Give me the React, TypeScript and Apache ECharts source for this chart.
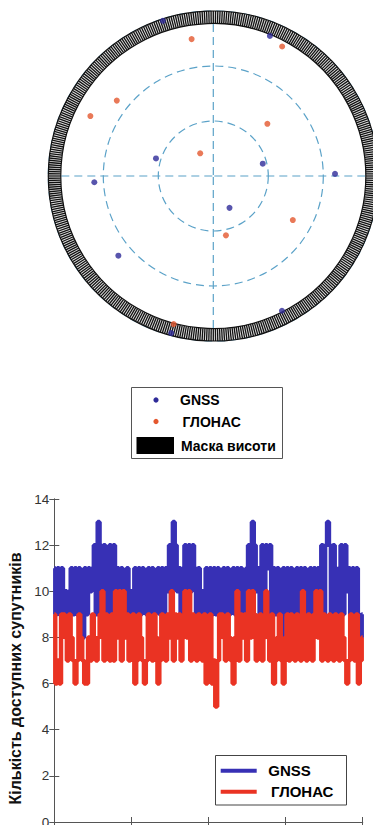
import React, { useEffect, useRef } from 'react';
import * as echarts from 'echarts';

// ---------- Sky plot (elevation °, azimuth °) ----------
const GNSS_SKY_ELEV = [1, 7.6, 57.3, 62.2, 25, 23.6, 70.5, 22.4, 7.5, 1.3];
const GNSS_SKY_AZ = [342, 22, 287, 76, 267, 89, 153, 230, 153, 195];
const GLONASS_SKY_ELEV = [14.4, 10, 23.2, 15.4, 49, 75.7, 40.4, 56.9, 6.4];
const GLONASS_SKY_AZ = [351, 28, 308, 296, 46, 330, 119, 168, 195];
const ELEVATION_MASK_DEG = 6.8;

// ---------- Visible satellites time series ----------
const SAMPLE_STEP_H = 0.6;
const GNSS_COUNT = [
  11, 9, 11, 9, 11, 9, 10, 9, 10, 11, 9, 11, 9, 11, 9, 8, 11, 9, 11, 10,
  11, 12, 9, 13, 12, 9, 12, 11, 9, 12, 9, 12, 10, 11, 9, 11, 10, 9, 11, 9,
  10, 9, 11, 9, 11, 9, 11, 10, 9, 11, 9, 11, 9, 10, 11, 9, 11, 9, 11, 10,
  12, 9, 13, 12, 10, 11, 9, 11, 12, 9, 12, 10, 12, 11, 9, 11, 9, 10, 9, 11,
  8, 11, 9, 11, 9, 11, 10, 9, 11, 9, 11, 9, 10, 11, 9, 11, 9, 11, 10, 9,
  11, 12, 9, 13, 12, 10, 11, 9, 12, 9, 12, 11, 12, 9, 11, 9, 11, 10, 8, 11,
  9, 11, 9, 11, 9, 10, 11, 9, 11, 9, 11, 10, 9, 11, 9, 11, 9, 11, 10, 12,
  9, 12, 13, 12, 9, 12, 11, 9, 11, 12, 9, 12, 10, 11, 9, 11, 9, 11, 9, 8,
  9,
];
const GLONASS_COUNT = [
  9, 6, 7, 6, 9, 9, 8, 7, 9, 8, 7, 6, 7, 9, 8, 7, 6, 6, 8, 7,
  9, 8, 7, 8, 9, 10, 7, 9, 8, 7, 9, 7, 10, 8, 10, 7, 10, 8, 9, 7,
  8, 9, 6, 7, 9, 8, 7, 6, 7, 9, 8, 7, 9, 8, 6, 7, 9, 8, 7, 9,
  8, 10, 7, 9, 8, 9, 7, 8, 10, 8, 10, 7, 9, 8, 7, 9, 8, 7, 9, 6,
  8, 9, 6, 7, 5, 7, 9, 9, 8, 7, 9, 8, 7, 6, 8, 10, 7, 9, 8, 9,
  7, 10, 8, 10, 9, 7, 8, 9, 7, 8, 10, 8, 7, 9, 6, 7, 8, 9, 7, 6,
  8, 9, 7, 9, 8, 7, 9, 8, 7, 10, 8, 7, 9, 8, 7, 9, 10, 8, 10, 7,
  9, 8, 7, 9, 8, 7, 9, 8, 7, 9, 8, 7, 6, 7, 9, 8, 7, 9, 6, 7,
  8,
];

const SKY_BLUE = '#2e2a98';
const SKY_ORANGE = '#e4572e';
const LINE_BLUE = '#3730b5';
const LINE_RED = '#ea3323';
const DASH_COLOR = '#5ba2c8';
const FONT = '"Liberation Sans", Arial, Helvetica, sans-serif';

export default function App() {
  const ref = useRef<HTMLDivElement>(null);

  useEffect(() => {
    if (!ref.current) return;
    const chart = echarts.init(ref.current, undefined, { renderer: 'svg' });

    const gnssSky = GNSS_SKY_ELEV.map((e, i) => [e, GNSS_SKY_AZ[i]]);
    const glonassSky = GLONASS_SKY_ELEV.map((e, i) => [e, GLONASS_SKY_AZ[i]]);
    const gnssSeries = GNSS_COUNT.map((v, i) => [i * SAMPLE_STEP_H, v]);
    const glonassSeries = GLONASS_COUNT.map((v, i) => [i * SAMPLE_STEP_H, v]);
    const xMax = (GNSS_COUNT.length - 1) * SAMPLE_STEP_H;

    const dashed = { type: [8, 5] as any, color: DASH_COLOR, width: 1.2 };

    const option: any = {
      animation: false,
      textStyle: { fontFamily: FONT },
      polar: { center: [213.3, 176], radius: 165 },
      angleAxis: {
        type: 'value', min: 0, max: 360, interval: 90, startAngle: 90, clockwise: true,
        axisLine: { show: false }, axisTick: { show: false }, axisLabel: { show: false },
        splitLine: { show: true, lineStyle: dashed },
      },
      radiusAxis: {
        type: 'value', min: 0, max: 90, interval: 30, inverse: true,
        axisLine: { show: false }, axisTick: { show: false }, axisLabel: { show: false },
        splitLine: { show: true, lineStyle: dashed },
      },
      grid: { left: 54.3, right: 10.3, top: 499, bottom: 3, containLabel: false, outerBoundsMode: 'none' },
      xAxis: [
        {
          type: 'value', min: 0, max: xMax, interval: 24, position: 'bottom',
          axisLine: { show: true, lineStyle: { color: '#555', width: 1 } },
          axisTick: { show: true, inside: true, length: 5, lineStyle: { color: '#555' } },
          axisLabel: { show: false }, splitLine: { show: false },
        },
        {
          type: 'value', min: 0, max: xMax, interval: 24, position: 'top',
          axisLine: { show: true, lineStyle: { color: '#555', width: 1 } },
          axisTick: { show: true, inside: true, length: 5, lineStyle: { color: '#555' } },
          axisLabel: { show: false }, splitLine: { show: false },
        },
      ],
      yAxis: [
        {
          type: 'value', min: 0, max: 14, interval: 2, position: 'left',
          name: 'Кількість доступних супутників', nameLocation: 'middle', nameGap: 22,
          nameTextStyle: { fontSize: 16, fontWeight: 'bold', color: '#111', fontFamily: FONT, padding: [0, 36, 0, 0] },
          axisLine: { show: true, lineStyle: { color: '#555', width: 1 } },
          axisTick: { show: true, inside: true, length: 5, lineStyle: { color: '#555' } },
          axisLabel: { show: true, fontSize: 13.5, color: '#333', margin: 5, fontFamily: FONT },
          splitLine: { show: false },
        },
        {
          type: 'value', min: 0, max: 14, interval: 2, position: 'right',
          axisLine: { show: true, lineStyle: { color: '#555', width: 1 } },
          axisTick: { show: true, inside: true, length: 5, lineStyle: { color: '#555' } },
          axisLabel: { show: false }, splitLine: { show: false },
        },
      ],
      series: [
        {
          name: 'Маска висоти',
          type: 'custom',
          coordinateSystem: 'polar',
          z: 2,
          silent: true,
          data: [[ELEVATION_MASK_DEG, 0]],
          renderItem: (params: any, api: any) => {
            const c = api.coord([90, 0]);
            const o = api.coord([0, 0]);
            const inn = api.coord([api.value(0), 0]);
            const R = Math.hypot(o[0] - c[0], o[1] - c[1]);
            const r0 = Math.hypot(inn[0] - c[0], inn[1] - c[1]);
            const children: any[] = [
              { type: 'ring', shape: { cx: c[0], cy: c[1], r: R, r0 }, style: { fill: '#e6e6e6' } },
            ];
            const n = 460;
            for (let k = 0; k < n; k++) {
              const a = (k / n) * Math.PI * 2;
              const cs = Math.cos(a), sn = Math.sin(a);
              children.push({
                type: 'line',
                shape: { x1: c[0] + r0 * cs, y1: c[1] + r0 * sn, x2: c[0] + R * cs, y2: c[1] + R * sn },
                style: { stroke: '#111', lineWidth: 1.3 },
              });
            }
            children.push({ type: 'circle', shape: { cx: c[0], cy: c[1], r: R }, style: { fill: 'none', stroke: '#111', lineWidth: 1.2 } });
            children.push({ type: 'circle', shape: { cx: c[0], cy: c[1], r: r0 }, style: { fill: 'none', stroke: '#111', lineWidth: 1.2 } });
            return { type: 'group', children };
          },
        },
        {
          name: 'GNSS', type: 'scatter', coordinateSystem: 'polar', z: 5,
          symbolSize: 6, itemStyle: { color: SKY_BLUE }, data: gnssSky,
        },
        {
          name: 'ГЛОНАС', type: 'scatter', coordinateSystem: 'polar', z: 5,
          symbolSize: 6, itemStyle: { color: SKY_ORANGE }, data: glonassSky,
        },
        {
          name: 'GNSS', type: 'line', xAxisIndex: 0, yAxisIndex: 0, step: 'middle',
          showSymbol: false, symbol: 'none', data: gnssSeries, z: 3,
          lineStyle: { color: LINE_BLUE, width: 4.4 }, itemStyle: { color: LINE_BLUE },
        },
        {
          name: 'ГЛОНАС', type: 'line', xAxisIndex: 0, yAxisIndex: 0, step: 'middle',
          showSymbol: false, symbol: 'none', data: glonassSeries, z: 4,
          lineStyle: { color: LINE_RED, width: 4.4 }, itemStyle: { color: LINE_RED },
        },
      ],
      graphic: [
        // Sky plot legend
        { type: 'rect', shape: { x: 131.5, y: 387.5, width: 151, height: 71 }, style: { fill: '#fff', stroke: '#555', lineWidth: 1 }, z: 10 },
        { type: 'circle', shape: { cx: 156, cy: 400, r: 2.6 }, style: { fill: SKY_BLUE }, z: 11 },
        { type: 'text', x: 180, y: 400, style: { text: 'GNSS', font: `bold 14px ${FONT}`, fill: '#000', verticalAlign: 'middle' }, z: 11 },
        { type: 'circle', shape: { cx: 156, cy: 421.5, r: 2.6 }, style: { fill: SKY_ORANGE }, z: 11 },
        { type: 'text', x: 182.5, y: 421.5, style: { text: 'ГЛОНАС', font: `bold 14px ${FONT}`, fill: '#000', verticalAlign: 'middle' }, z: 11 },
        { type: 'rect', shape: { x: 136.5, y: 437, width: 37.5, height: 17 }, style: { fill: '#000' }, z: 11 },
        { type: 'text', x: 181, y: 445.5, style: { text: 'Маска висоти', font: `bold 14px ${FONT}`, fill: '#000', verticalAlign: 'middle' }, z: 11 },
        // Time series legend
        { type: 'rect', shape: { x: 215.5, y: 755.5, width: 131, height: 49.5 }, style: { fill: '#fff', stroke: '#444', lineWidth: 1 }, z: 10 },
        { type: 'line', shape: { x1: 220.7, y1: 770.7, x2: 256.7, y2: 770.7 }, style: { stroke: LINE_BLUE, lineWidth: 4 }, z: 11 },
        { type: 'text', x: 268.3, y: 770.5, style: { text: 'GNSS', font: `bold 15px ${FONT}`, fill: '#000', verticalAlign: 'middle' }, z: 11 },
        { type: 'line', shape: { x1: 220.7, y1: 791.7, x2: 256.7, y2: 791.7 }, style: { stroke: LINE_RED, lineWidth: 4 }, z: 11 },
        { type: 'text', x: 271, y: 791.5, style: { text: 'ГЛОНАС', font: `bold 15px ${FONT}`, fill: '#000', verticalAlign: 'middle' }, z: 11 },
      ],
    };

    chart.setOption(option);
    return () => chart.dispose();
  }, []);

  return (
    <div
      ref={ref}
      style={{ position: 'fixed', left: 0, top: 0, width: 373, height: 825, background: '#fff' }}
    />
  );
}
